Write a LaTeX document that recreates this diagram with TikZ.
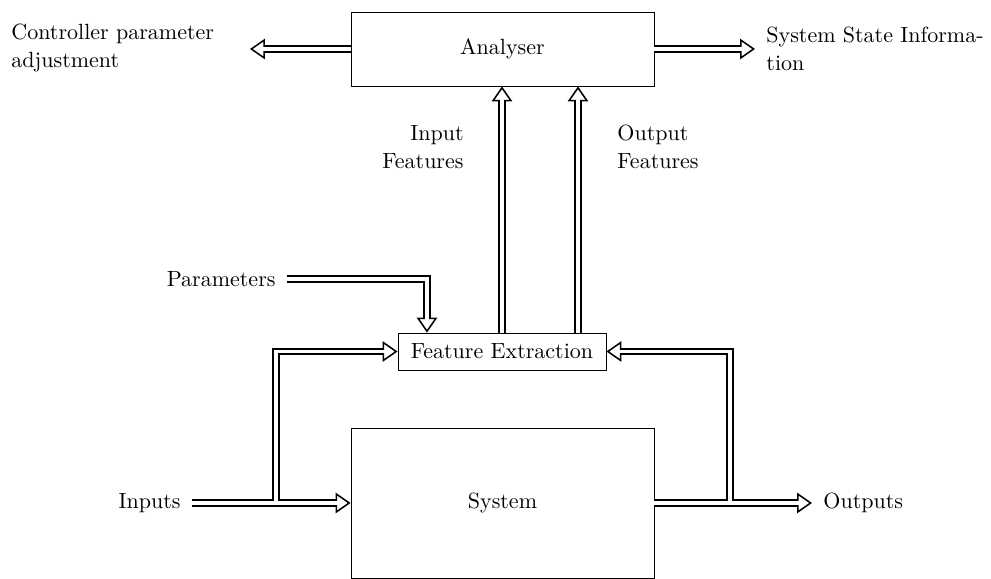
\documentclass[tikz,border=0pt]{standalone}
\usetikzlibrary{arrows.meta}
\begin{document}
\begin{tikzpicture}[x=0.4545pt, y=-0.4545pt,
  box/.style={draw, line width=0.4pt, inner sep=0pt},
  lbl/.style={inner xsep=5pt, inner ysep=0pt},
  txt/.style={inner sep=0pt, font=\fontsize{10}{12.7}\selectfont},
  dbl/.style={draw=white, line width=1.8pt, shorten >=5.2pt,
    preaction={draw=black, line width=3.2pt, shorten >=0pt,
      -{Triangle[open, length=6.8pt, width=9.3pt, line width=0.7pt]}}},
  erase/.style={draw=white, line width=1.8pt}]
\useasboundingbox (0,0) rectangle (991,579);
% boxes
\node[box, minimum width=303*0.4545pt, minimum height=74*0.4545pt] (ana) at (502.5,49) {Analyser};
\node[box, minimum width=303*0.4545pt, minimum height=150*0.4545pt] (sys) at (502.5,503) {System};
\node[box, minimum width=208*0.4545pt, minimum height=37*0.4545pt] (fe) at (502,351.5) {Feature Extraction};
% labels
\node[txt, anchor=west, align=left] (cpa) at (11,48) {Controller parameter\\adjustment};
\coordinate (cpatip) at (250,49);
\node[txt, lbl, anchor=west, align=left] (ssi) at (755,49) {System State Informa-\\tion};
\node[txt, anchor=east, align=right] (inf) at (464,147) {Input\\Features};
\node[txt, anchor=west, align=left] (ouf) at (617,147) {Output\\Features};
\node[lbl, anchor=east] (par) at (287,279) {Parameters};
\node[lbl, anchor=east] (inp) at (192,503) {Inputs};
\node[lbl, anchor=west] (outp) at (812,503) {Outputs};
\coordinate (pdx) at (427,0);
\coordinate (ofx) at (578,0);
\coordinate (ib) at (276,503);
\coordinate (ob) at (730,503);
% analyser outputs
\draw[dbl] (ana.west) -- (cpatip);
\draw[dbl] (ana.east) -- (ssi.west);
% features
\draw[dbl] (fe.north) -- (fe.north |- ana.south);
\draw[dbl] (ofx |- fe.north) -- (ofx |- ana.south);
% parameters
\draw[dbl] (par.east) -| (pdx |- fe.north);
% inputs
\draw[dbl] (inp.east) -- (sys.west);
\draw[dbl] (ib) |- (fe.west);
\draw[erase] ([xshift=-2.5pt]ib) -- ([xshift=2.5pt]ib);
% outputs
\draw[dbl] (sys.east) -- (outp.west);
\draw[dbl] (ob) |- (fe.east);
\draw[erase] ([xshift=-2.5pt]ob) -- ([xshift=2.5pt]ob);
\end{tikzpicture}
\end{document}
